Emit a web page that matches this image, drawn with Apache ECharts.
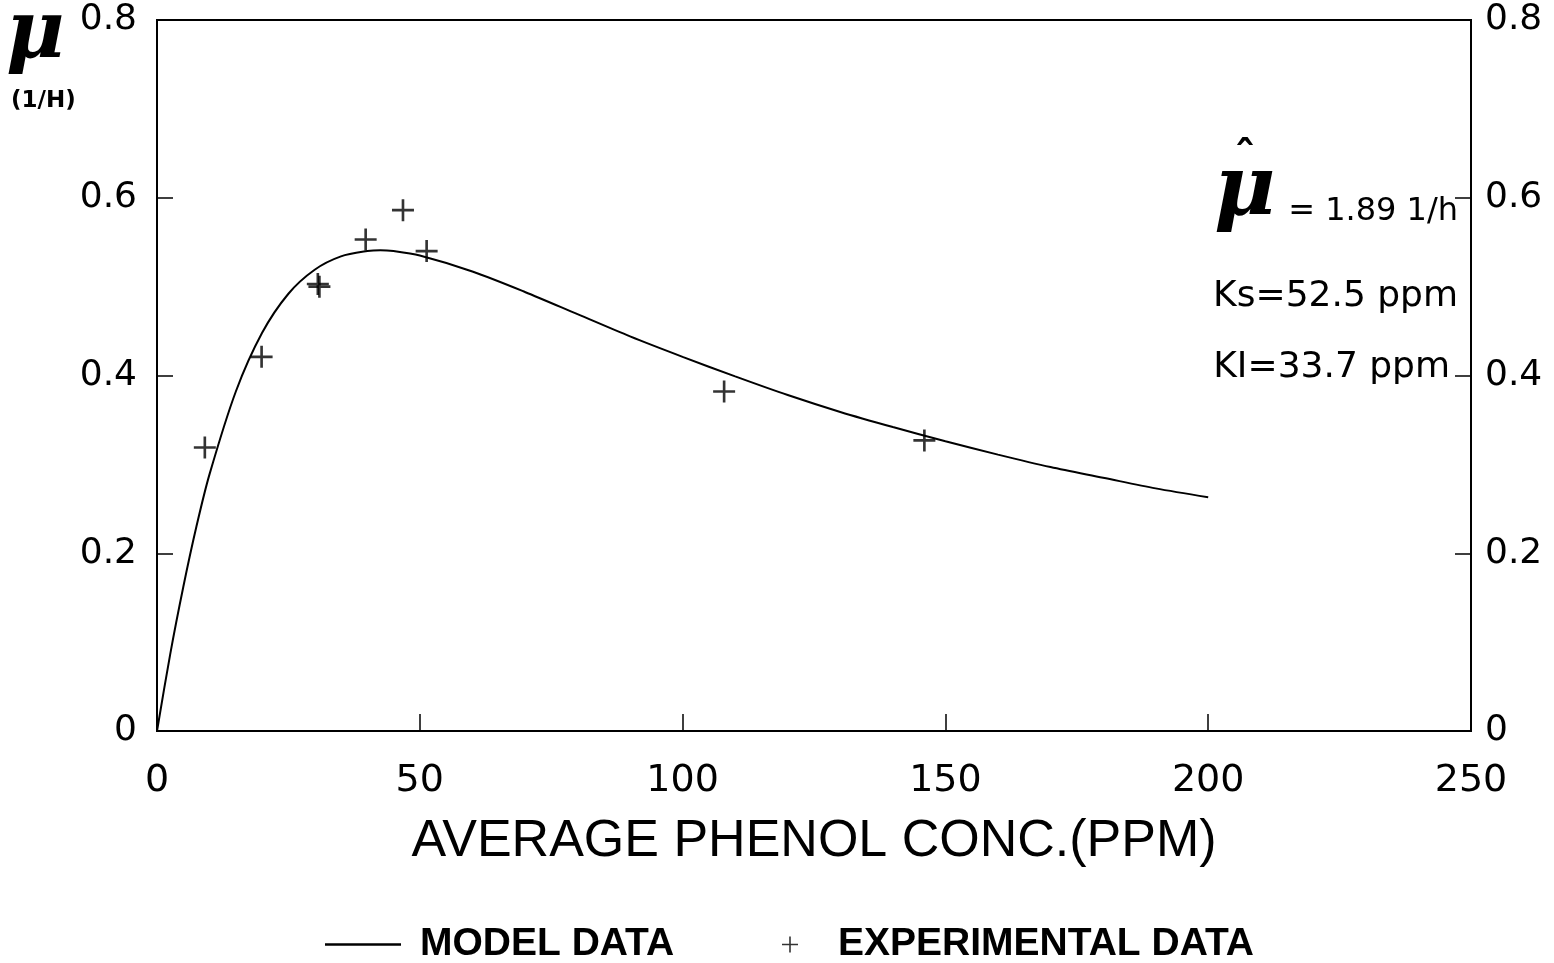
<!DOCTYPE html>
<html>
<head>
<meta charset="utf-8">
<title>Average phenol conc. vs growth rate</title>
<script src="https://cdn.jsdelivr.net/npm/echarts@6/dist/echarts.min.js"></script>
<style>
  html, body { margin: 0; padding: 0; background: #fff; }
  #chart { width: 1554px; height: 963px; }
</style>
</head>
<body>
<div id="chart"></div>
<script>
// model curve (ppm, 1/h)
const modelX = [0, 2.5, 5, 7.5, 10, 15, 20, 25, 30, 35, 40, 42.5, 45, 50, 60, 70, 80, 90, 100, 110, 120, 130, 140, 150, 160, 170, 180, 190, 200]
const modelY = [0, 0.086, 0.162, 0.230, 0.289, 0.382, 0.448, 0.492, 0.519, 0.534, 0.540, 0.541, 0.540, 0.535, 0.517, 0.494, 0.469, 0.444, 0.421, 0.399, 0.378, 0.359, 0.342, 0.326, 0.311, 0.297, 0.285, 0.273, 0.263]

// experimental points
const expX = [9.1, 19.9, 30.6, 30.9, 39.7, 46.8, 51.3, 107.9, 146.0]
const expY = [0.319, 0.421, 0.503, 0.500, 0.553, 0.586, 0.540, 0.382, 0.327]

const xTicks = [0, 50, 100, 150, 200, 250]
const yTickLabels = ['0', '0.2', '0.4', '0.6', '0.8']

const plus = 'path://M0,8.8H20V11.2H0Z M8.8,0H11.2V20H8.8Z'
const black = '#000'

const chart = echarts.init(document.getElementById('chart'))

const yAxisBase = {
  type: 'value',
  min: 0,
  max: 0.8,
  interval: 0.2,
  splitLine: { show: false },
  axisLine: { show: true, lineStyle: { color: black, width: 2 } },
  axisTick: { show: true, inside: true, length: 16, lineStyle: { color: black, width: 1.5 } },
  axisLabel: {
    color: black,
    fontFamily: 'DejaVu Sans',
    fontSize: 36,
    formatter: v => yTickLabels[Math.round(v / 0.2)]
  }
}

chart.setOption({
  animation: false,
  backgroundColor: '#fff',
  grid: {
    left: 157,
    right: 83,
    top: 20,
    bottom: 232,
    show: true,
    borderColor: black,
    borderWidth: 2,
    outerBoundsMode: 'none'
  },
  xAxis: {
    type: 'value',
    min: xTicks[0],
    max: xTicks[xTicks.length - 1],
    interval: 50,
    name: 'AVERAGE PHENOL CONC.(PPM)',
    nameLocation: 'middle',
    nameGap: 85,
    nameTextStyle: { color: black, fontFamily: 'Liberation Sans, Arial', fontSize: 52 },
    splitLine: { show: false },
    axisLine: { show: true, lineStyle: { color: black, width: 2 } },
    axisTick: { show: true, inside: true, length: 17, lineStyle: { color: black, width: 1.5 } },
    axisLabel: { color: black, fontFamily: 'DejaVu Sans', fontSize: 38, margin: 31 }
  },
  yAxis: [
    Object.assign({}, yAxisBase, { position: 'left', axisLabel: Object.assign({}, yAxisBase.axisLabel, { margin: 20 }) }),
    Object.assign({}, yAxisBase, { position: 'right', axisLabel: Object.assign({}, yAxisBase.axisLabel, { margin: 14 }) })
  ],
  legend: [
    {
      data: [{ name: 'MODEL DATA', icon: 'path://M0,0H76V2.4H0Z' }],
      left: 325,
      top: 925,
      padding: 0,
      itemWidth: 76,
      itemHeight: 20,
      selectedMode: false,
      textStyle: { color: black, fontFamily: 'Liberation Sans, Arial', fontWeight: 'bold', fontSize: 39, padding: [0, 0, 0, 14] }
    },
    {
      data: [{ name: 'EXPERIMENTAL DATA', icon: 'path://M0,7.2H16V8.8H0Z M7.2,0H8.8V16H7.2Z' }],
      left: 782,
      top: 925,
      padding: 0,
      itemWidth: 16,
      itemHeight: 16,
      selectedMode: false,
      textStyle: { color: black, fontFamily: 'Liberation Sans, Arial', fontWeight: 'bold', fontSize: 39, padding: [0, 0, 0, 35] }
    }
  ],
  graphic: [
    // left axis unit
    { type: 'text', left: 6, top: -4, style: { text: 'μ', fill: black, font: 'italic bold 80px "DejaVu Serif"' } },
    { type: 'text', left: 11, top: 90, style: { text: '(1/H)', fill: black, font: 'bold 23px "DejaVu Sans"' } },
    // model parameters
    { type: 'text', left: 1214, top: 150, style: { text: 'μ', fill: black, font: 'italic bold 84px "DejaVu Serif"' } },
    { type: 'text', left: 1234, top: 140, style: { text: 'ˆ', fill: black, font: 'bold 44px "DejaVu Sans"' } },
    { type: 'text', right: 96, top: 196, style: { text: '= 1.89 1/h', fill: black, font: '32px "DejaVu Sans"' } },
    { type: 'text', right: 96, top: 279, style: { text: 'Ks=52.5 ppm', fill: black, font: '36px "DejaVu Sans"' } },
    { type: 'text', right: 104, top: 350, style: { text: 'KI=33.7 ppm', fill: black, font: '36px "DejaVu Sans"' } }
  ],
  series: [
    {
      name: 'MODEL DATA',
      type: 'line',
      data: modelX.map((x, i) => [x, modelY[i]]),
      smooth: 0.3,
      showSymbol: false,
      lineStyle: { color: black, width: 2 },
      itemStyle: { color: black }
    },
    {
      name: 'EXPERIMENTAL DATA',
      type: 'scatter',
      data: expX.map((x, i) => [x, expY[i]]),
      symbol: plus,
      symbolSize: 22,
      itemStyle: { color: black }
    }
  ]
})
</script>
</body>
</html>
